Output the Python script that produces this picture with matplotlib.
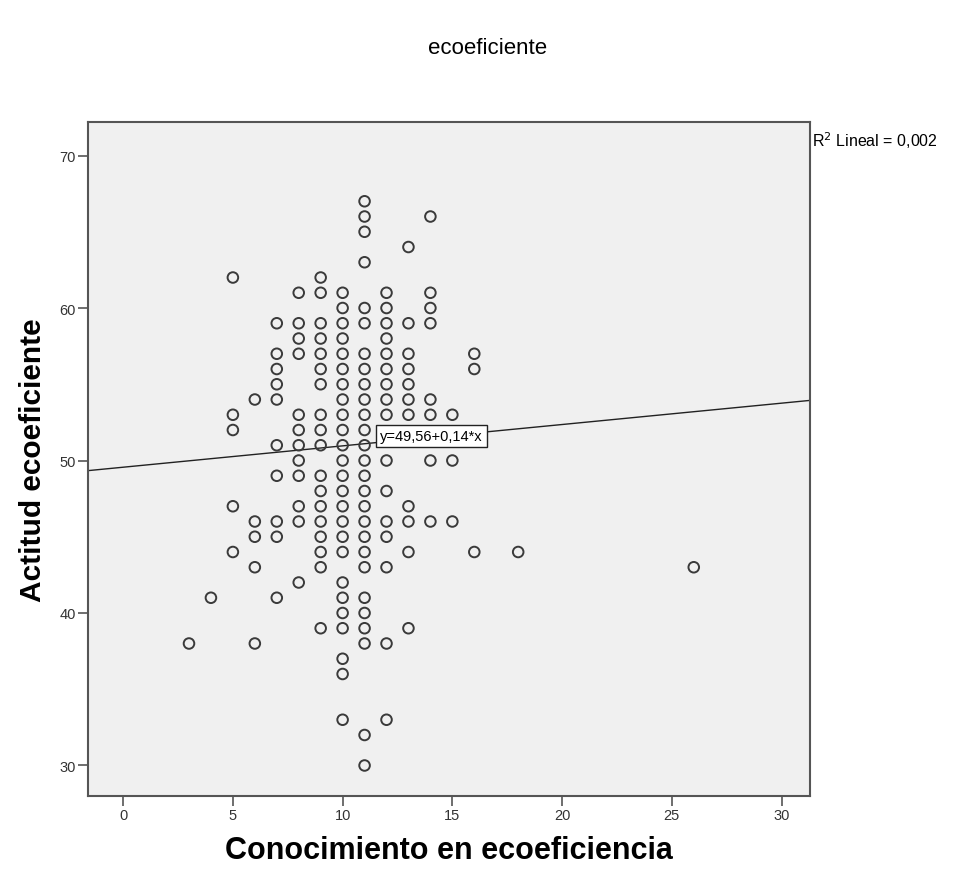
import matplotlib.pyplot as plt

plt.rcParams['font.family'] = ['Liberation Sans', 'DejaVu Sans']

# Conocimiento (x) -> valores de Actitud (y)
x_3 = [38]
x_4 = [41]
x_5 = [62, 53, 52, 47, 44]
x_6 = [54, 46, 45, 43, 38]
x_7 = [59, 57, 56, 55, 54, 51, 49, 46, 45, 41]
x_8 = [61, 59, 58, 57, 53, 52, 51, 50, 49, 47, 46, 42]
x_9 = [62, 61, 59, 58, 57, 56, 55, 53, 52, 51, 49, 48, 47, 46, 45, 44, 43, 39]
x_10 = [61, 60, 59, 58, 57, 56, 55, 54, 53, 52, 51, 50, 49, 48, 47, 46, 45, 44,
        42, 41, 40, 39, 37, 36, 33]
x_11 = [67, 66, 65, 63, 60, 59, 57, 56, 55, 54, 53, 52, 51, 50, 49, 48, 47, 46,
        45, 44, 43, 41, 40, 39, 38, 32, 30]
x_12 = [61, 60, 59, 58, 57, 56, 55, 54, 53, 50, 48, 46, 45, 43, 38, 33]
x_13 = [64, 59, 57, 56, 55, 54, 53, 47, 46, 44, 39]
x_14 = [66, 61, 60, 59, 54, 53, 50, 46]
x_15 = [53, 50, 46]
x_16 = [57, 56, 44]
x_18 = [44]
x_26 = [43]

columns = {3: x_3, 4: x_4, 5: x_5, 6: x_6, 7: x_7, 8: x_8, 9: x_9, 10: x_10,
           11: x_11, 12: x_12, 13: x_13, 14: x_14, 15: x_15, 16: x_16,
           18: x_18, 26: x_26}

conocimiento = []
actitud = []
for k, vals in columns.items():
    conocimiento += [k] * len(vals)
    actitud += vals

intercept = 49.56
slope = 0.14
r2 = "0,002"

fig = plt.figure(figsize=(9.76, 8.79), dpi=100)
ax = fig.add_axes([0.0902, 0.0933, 0.7398, 0.7668])
ax.set_facecolor('#f0f0f0')

ax.scatter(conocimiento, actitud, s=58, facecolors='none',
           edgecolors='#3a3a3a', linewidths=1.4, zorder=3)
ax.axline((0, intercept), slope=slope, color='#222222', lw=1.0, zorder=2)

ax.set_xlim(-1.6, 31.3)
ax.set_ylim(28.0, 72.2)
ax.set_xticks([0, 5, 10, 15, 20, 25, 30])
ax.set_yticks([30, 40, 50, 60, 70])

for s in ax.spines.values():
    s.set_color('#555555')
    s.set_linewidth(1.5)
ax.tick_params(axis='both', direction='out', length=7, width=1.2,
               color='#555555', labelsize=10.5, labelcolor='#333333', pad=2)

ax.set_xlabel('Conocimiento en ecoeficiencia', fontsize=22,
              fontweight='bold', labelpad=9)
ax.set_ylabel('Actitud ecoeficiente', fontsize=21.5, fontweight='bold',
              labelpad=9)

fig.text(0.5, 0.945, 'ecoeficiente', ha='center', va='center', fontsize=16)

# etiqueta de la ecuacion
ax.text(11.7, 51.6, 'y=49,56+0,14*x', fontsize=10.5, va='center', ha='left',
        bbox=dict(boxstyle='square,pad=0.3', fc='white', ec='#222222',
                  lw=1.0), zorder=5)

fig.text(0.832, 0.84, 'R$^2$ Lineal = ' + r2, fontsize=11.5, va='center',
         ha='left')

fig.savefig('out.png', dpi=100)
